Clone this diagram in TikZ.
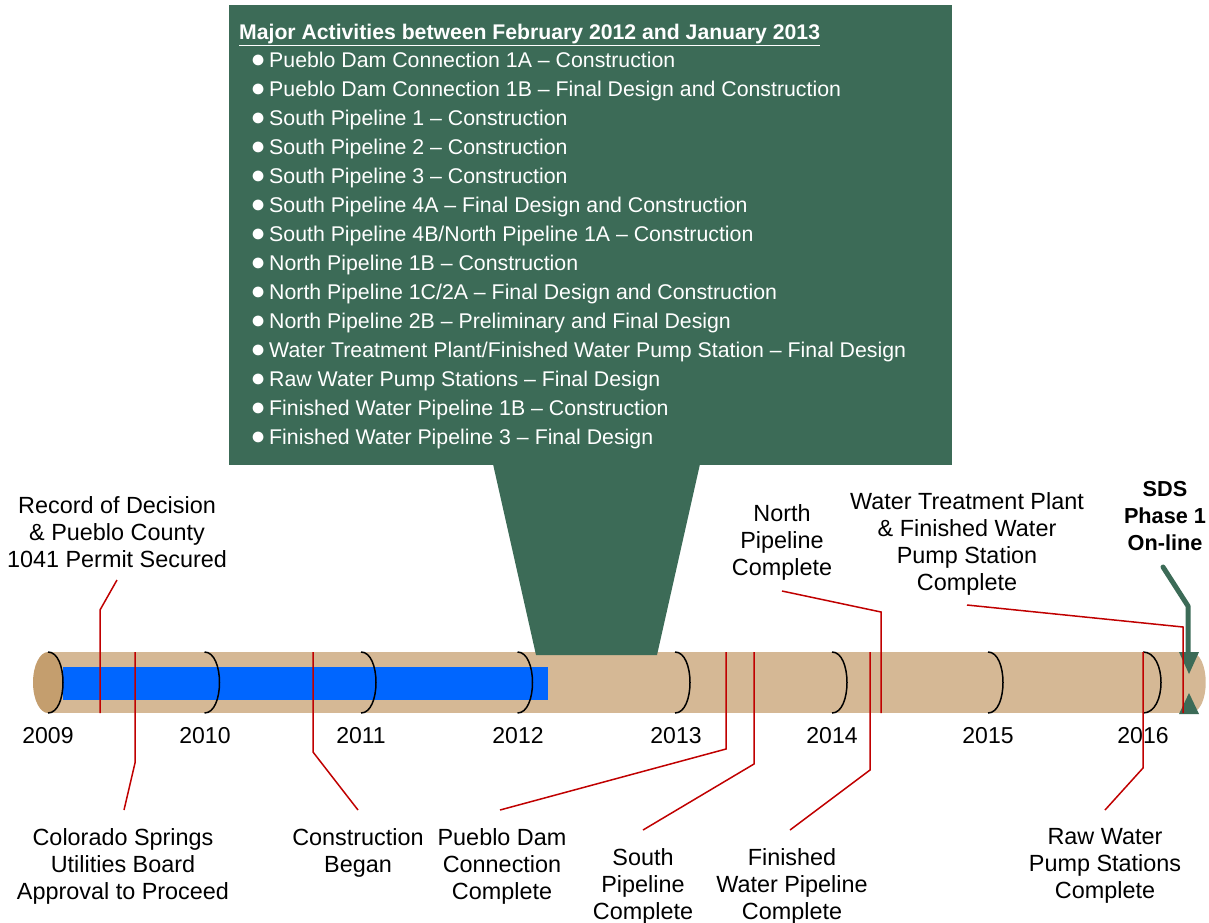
\documentclass[tikz,border=0pt]{standalone}
\usepackage{fontspec}
\setmainfont{Liberation Sans}
\definecolor{pipetan}{HTML}{D5B895}
\definecolor{pipeend}{HTML}{C49E6E}
\definecolor{pipeblue}{HTML}{0066FF}
\definecolor{boxgreen}{HTML}{3C6B57}
\definecolor{leadred}{HTML}{C00000}
\begin{document}
\begin{tikzpicture}[x=1pt,y=-1pt,
  lbl/.style={font=\fontsize{23.4}{27}\selectfont, align=center, inner sep=0pt},
  sds/.style={font=\fontsize{21.7}{27}\selectfont\bfseries, align=center, inner sep=0pt},
  yr/.style={font=\fontsize{23}{27}\selectfont, inner sep=0pt},
  itm/.style={font=\fontsize{21.3}{29}\selectfont, text=white, anchor=base west, inner sep=0pt},
  lead/.style={draw=leadred, line width=1.5pt},
  tick/.style={draw=black, line width=1.5pt},
]
\useasboundingbox (0,0) rectangle (1209,922);
% pipe
\fill[pipetan] (48,652) rectangle (1190,713);
\fill[pipetan] (1190,652) .. controls (1211,652) and (1211,713) .. (1190,713) -- cycle;
\fill[pipeend] (48,682.5) ellipse [x radius=15, y radius=30.5];
\fill[pipeblue] (63,667) rectangle (548,700);
% year arcs
\foreach \x in {48,204.5,361,517.5,675,832,988}
  \draw[tick] (\x,652) .. controls (\x+20,652) and (\x+20,713) .. (\x,713);
\draw[tick] (1143,652) .. controls (1167,652) and (1167,713) .. (1143,713);
% year labels
\node[yr] (y2009) at (48,736) {2009};
\node[yr] (y2010) at (205,736) {2010};
\node[yr] (y2011) at (361,736) {2011};
\node[yr] (y2012) at (518,736) {2012};
\node[yr] (y2013) at (676,736) {2013};
\node[yr] (y2014) at (832,736) {2014};
\node[yr] (y2015) at (988,736) {2015};
\node[yr] (y2016) at (1143,736) {2016};
% callout box
\fill[boxgreen] (229,5) rectangle (952,465);
\fill[boxgreen] (493,464) -- (700,464) -- (657,655) -- (536,655) -- cycle;
\node[itm, font=\fontsize{21.2}{29}\selectfont\bfseries] (title) at (239,39.5)
  {\underline{Major Activities between February 2012 and January 2013}};
\foreach \t [count=\i] in {
  Pueblo Dam Connection 1A – Construction,
  Pueblo Dam Connection 1B – Final Design and Construction,
  South Pipeline 1 – Construction,
  South Pipeline 2 – Construction,
  South Pipeline 3 – Construction,
  South Pipeline 4A – Final Design and Construction,
  South Pipeline 4B/North Pipeline 1A – Construction,
  North Pipeline 1B – Construction,
  North Pipeline 1C/2A – Final Design and Construction,
  North Pipeline 2B – Preliminary and Final Design,
  Water Treatment Plant/Finished Water Pump Station – Final Design,
  Raw Water Pump Stations – Final Design,
  Finished Water Pipeline 1B – Construction,
  Finished Water Pipeline 3 – Final Design}
  \node[itm] (item\i) at (250.5,38.5+29*\i) {\makebox[18.5pt][l]{\fontsize{25}{29}\selectfont ●}\t};
% labels
\node[lbl] (rod) at (117,532) {Record of Decision\\\& Pueblo County\\1041 Permit Secured};
\node[lbl] (csu) at (123,866) {Colorado Springs\\Utilities Board\\Approval to Proceed};
\node[lbl] (cb) at (358,853) {Construction\\Began};
\node[lbl] (pdc) at (502,866) {Pueblo Dam\\Connection\\Complete};
\node[lbl] (sp) at (643,886) {South\\Pipeline\\Complete};
\node[lbl] (fwp) at (792,886) {Finished\\Water Pipeline\\Complete};
\node[lbl] (np) at (782,542) {North\\Pipeline\\Complete};
\node[lbl] (wtp) at (967,544) {Water Treatment Plant\\\& Finished Water\\Pump Station\\Complete};
\node[lbl] (rw) at (1105,866) {Raw Water\\Pump Stations\\Complete};
\node[sds] (sdsl) at (1165,516) {SDS\\Phase 1\\On-line};
% leader end points
\coordinate (rodE) at (117,580);
\coordinate (csuE) at (124,810);
\coordinate (cbE) at (358,810);
\coordinate (pdcE) at (500,810);
\coordinate (spE) at (643,830);
\coordinate (fwpE) at (790,830);
\coordinate (npE) at (782,591);
\coordinate (wtpE) at (967,605);
\coordinate (rwE) at (1105,810);
\coordinate (sdsE) at (1163,567);
% green arrow
\draw[boxgreen, line width=5pt, line cap=round, line join=round] (sdsE) -- (1188,606) -- (1188,655);
\fill[boxgreen] (1179,652) -- (1199,652) -- (1189,674) -- cycle;
\fill[boxgreen] (1179,714) -- (1199,714) -- (1189,693) -- cycle;
% red leaders
\draw[lead] (100,713) -- (100,610) -- (rodE);
\draw[lead] (135,652) -- (135,763) -- (csuE);
\draw[lead] (313,652) -- (313,752) -- (cbE);
\draw[lead] (726,652) -- (726,749) -- (pdcE);
\draw[lead] (754,652) -- (754,764) -- (spE);
\draw[lead] (870,652) -- (870,770) -- (fwpE);
\draw[lead] (881,713) -- (881,612) -- (npE);
\draw[lead] (1183,713) -- (1183,627) -- (wtpE);
\draw[lead] (1143,652) -- (1143,768) -- (rwE);
\end{tikzpicture}
\end{document}
